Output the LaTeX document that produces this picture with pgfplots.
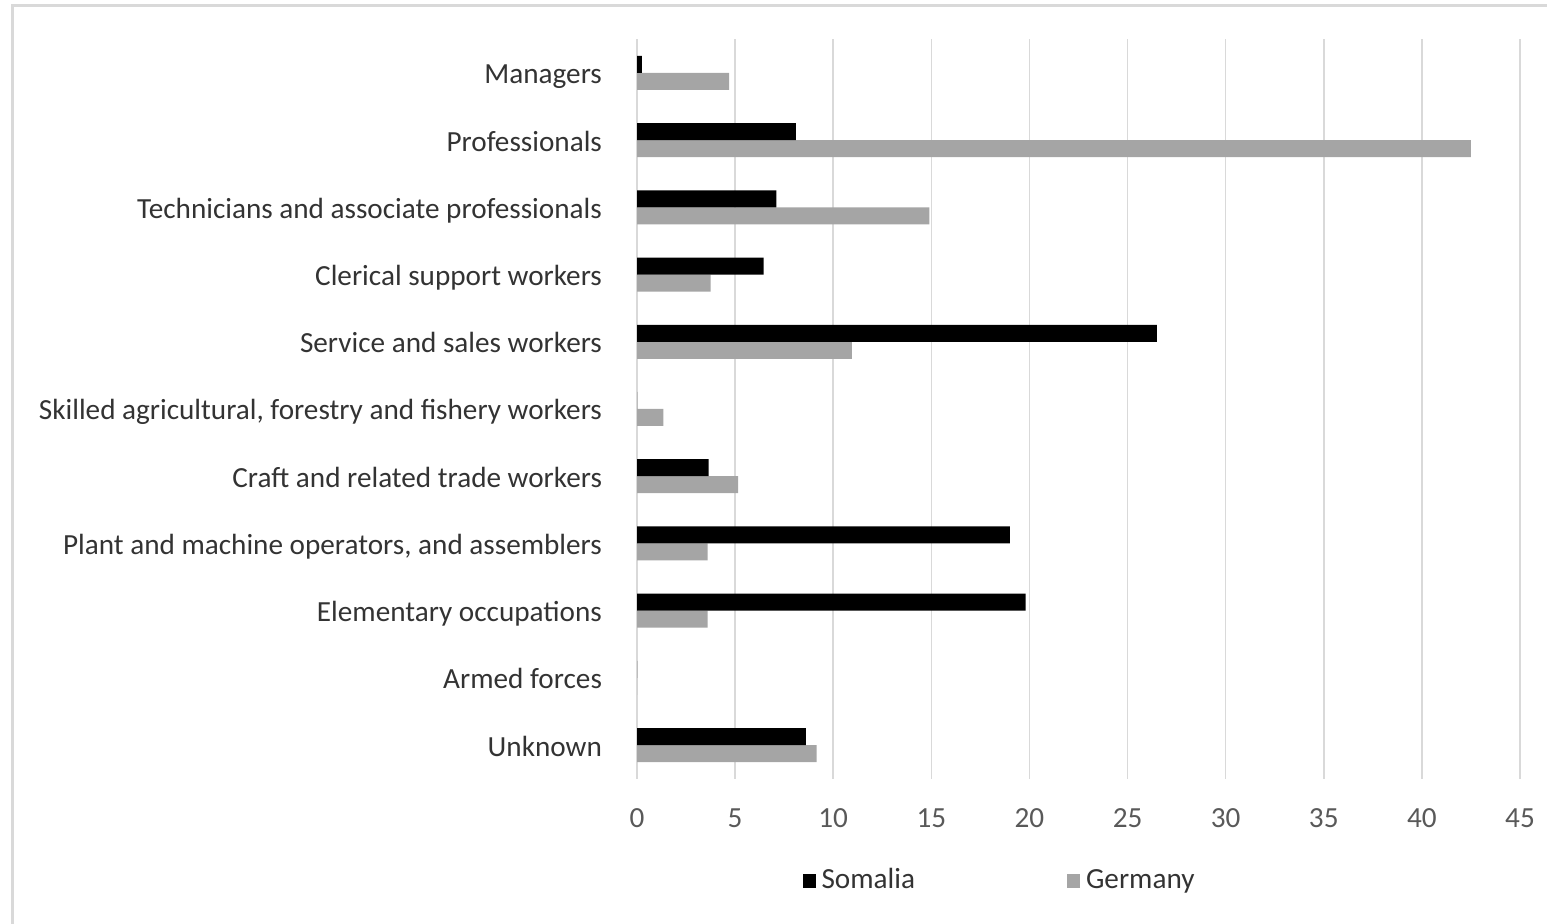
\documentclass[border=0pt]{standalone}
\usepackage{pgfplots}
\pgfplotsset{compat=1.18}
\usepackage{fontspec}
\setmainfont{Carlito}
\definecolor{somalia}{HTML}{000000}
\definecolor{germany}{HTML}{A5A5A5}
\definecolor{gridc}{HTML}{D9D9D9}
\definecolor{txt}{HTML}{333333}
\definecolor{tick}{HTML}{595959}
\begin{document}
\fontsize{14.6pt}{17.5pt}\selectfont
\begin{tikzpicture}
\path[use as bounding box] (0,0) rectangle (773.5pt,462pt);
\draw[gridc, line width=1.5pt] (6pt,-20pt) -- (6pt,459pt) -- (800pt,459pt);
\begin{axis}[
  at={(318.5pt,72.7pt)}, anchor=south west,
  scale only axis, width=441.5pt, height=369.6pt,
  xbar=0pt, bar width=8.5pt,
  xmin=0, xmax=45, xtick={0,5,...,45},
  ymin=-0.5, ymax=10.5, y dir=reverse,
  ytick={0,...,10},
  yticklabels={Managers, Professionals, Technicians and associate professionals, Clerical support workers, Service and sales workers, {Skilled agricultural, forestry and fishery workers}, Craft and related trade workers, {Plant and machine operators, and assemblers}, Elementary occupations, Armed forces, Unknown},
  axis line style={draw=none},
  major tick length=0pt,
  xmajorgrids, grid style={gridc, line width=0.75pt},
  /pgf/number format/assume math mode=true,
  xticklabel style={text=tick, font=\fontsize{14.6pt}{17.5pt}\selectfont, yshift=-10pt},
  yticklabel style={text=txt, font=\fontsize{14.6pt}{17.5pt}\selectfont, xshift=-12.5pt, text height=10pt, text depth=3pt, yshift=-2pt},
  legend columns=2, reverse legend,
  legend style={at={(0.4117,-0.1385)}, anchor=center, draw=none, fill=none,
    font=\fontsize{14.6pt}{17.5pt}\selectfont, text=txt,
    /tikz/every odd column/.append style={column sep=1pt},
    /tikz/every even column/.append style={column sep=74pt}},
  legend image code/.code={\fill[#1] (0.5pt,-3.4pt) rectangle (7pt,3.3pt);},
]
\addplot[fill=germany, draw=none] coordinates {
(4.7,0) (42.5,1) (14.9,2) (3.75,3) (10.95,4) (1.35,5) (5.15,6) (3.6,7) (3.6,8) (0,9) (9.15,10)};
\addplot[fill=somalia, draw=none] coordinates {
(0.25,0) (8.1,1) (7.1,2) (6.45,3) (26.5,4) (0,5) (3.65,6) (19.0,7) (19.8,8) (0,9) (8.6,10)};
\legend{Germany, Somalia}
\end{axis}
\end{tikzpicture}
\end{document}
